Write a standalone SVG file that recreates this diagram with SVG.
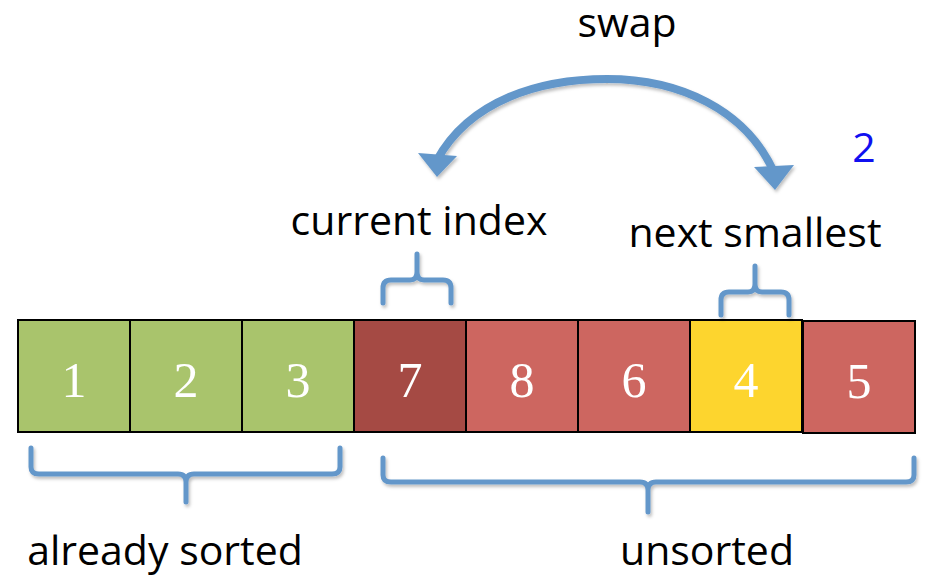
<svg xmlns="http://www.w3.org/2000/svg" width="928" height="579" viewBox="0 0 928 579">
  <defs>
    <filter id="shadow" x="-10%" y="-10%" width="120%" height="130%">
      <feDropShadow dx="1.5" dy="2.5" stdDeviation="1.8" flood-color="#000" flood-opacity="0.25"/>
    </filter>
  </defs>
  <style>
    .cell { stroke: #000; stroke-width: 2; }
    .sorted { fill: #A9C46C; }
    .current { fill: #A54A44; }
    .unsorted { fill: #CD6660; }
    .smallest { fill: #FDD52E; }
    .num { font-family: "Liberation Serif", "Times New Roman", serif; font-size: 50px; fill: #fff; text-anchor: middle; }
    .label { font-family: "Open Sans", "Liberation Sans", Arial, sans-serif; font-size: 41px; fill: #000; text-anchor: middle; }
    .brace { fill: none; stroke: #6497CA; stroke-width: 5; stroke-linecap: round; stroke-linejoin: round; }
    .arc { fill: none; stroke: #6497CA; stroke-width: 8; }
    .head { fill: #6497CA; }
  </style>

  <!-- array cells -->
  <g id="cell-1"><rect class="cell sorted" x="18" y="320" width="112" height="112"/><text class="num" x="74" y="397">1</text></g>
  <g id="cell-2"><rect class="cell sorted" x="130" y="320" width="112" height="112"/><text class="num" x="186" y="397">2</text></g>
  <g id="cell-3"><rect class="cell sorted" x="242" y="320" width="112" height="112"/><text class="num" x="298" y="397">3</text></g>
  <g id="cell-7"><rect class="cell current" x="354" y="320" width="112" height="112"/><text class="num" x="410" y="397">7</text></g>
  <g id="cell-8"><rect class="cell unsorted" x="466" y="320" width="112" height="112"/><text class="num" x="522" y="397">8</text></g>
  <g id="cell-6"><rect class="cell unsorted" x="578" y="320" width="112" height="112"/><text class="num" x="634" y="397">6</text></g>
  <g id="cell-4"><rect class="cell smallest" x="690" y="320" width="112" height="112"/><text class="num" x="746" y="397">4</text></g>
  <g id="cell-5"><rect class="cell unsorted" x="803" y="321" width="112" height="112"/><text class="num" x="859" y="398">5</text></g>

  <!-- connectors: swap arc and braces -->
  <g id="connectors" filter="url(#shadow)">
    <path class="arc" d="M 437 160 C 470 100 540 79 607 79 C 680 79 745 110 773 170"/>
    <polygon class="head" points="418,153 457,156 437,177"/>
    <polygon class="head" points="754,167 794,165 775,190"/>

    <path class="brace" d="M 383 303 V 288 Q 383 280 391 280 H 410 Q 417 280 417 272 V 254 M 417 272 Q 417 280 424 280 H 443 Q 451 280 451 288 V 303"/>
    <path class="brace" d="M 721 315 V 300 Q 721 292 729 292 H 748 Q 755 292 755 284 V 266 M 755 284 Q 755 292 762 292 H 781 Q 789 292 789 300 V 315"/>
    <path class="brace" d="M 31 448 V 467 Q 31 474 39 474 H 178 Q 186 474 186 482 V 502 M 186 482 Q 186 474 194 474 H 332 Q 340 474 340 467 V 448"/>
    <path class="brace" d="M 383 458 V 475 Q 383 482 391 482 H 640 Q 648 482 648 490 V 512 M 648 490 Q 648 482 656 482 H 906 Q 914 482 914 475 V 458"/>
  </g>

  <!-- labels -->
  <g id="label-swap"><text class="label" x="627" y="37">swap</text></g>
  <g id="label-step"><text class="label" x="864" y="162" style="fill:#1010F0">2</text></g>
  <g id="label-current"><text class="label" x="419" y="235">current index</text></g>
  <g id="label-next"><text class="label" x="755" y="247">next smallest</text></g>
  <g id="label-sorted"><text class="label" x="165" y="565">already sorted</text></g>
  <g id="label-unsorted"><text class="label" x="707" y="565">unsorted</text></g>
</svg>
